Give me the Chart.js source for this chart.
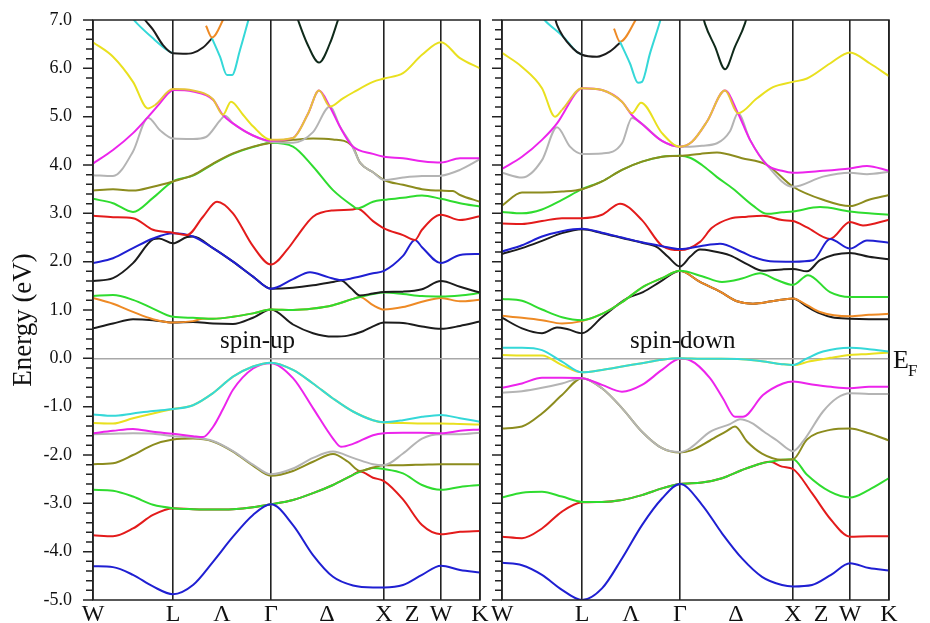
<!DOCTYPE html>
<html>
<head>
<meta charset="utf-8">
<script src="https://cdn.jsdelivr.net/npm/chart.js@4.4.0/dist/chart.umd.min.js"></script>
<style>
  body { margin: 0; background: #fff; }
  #wrap { position: relative; width: 930px; height: 623px; }
  canvas { position: absolute; top: 0; }
</style>
</head>
<body>
<div id="wrap">
  <canvas id="up" width="490" height="623" style="left:0"></canvas>
  <canvas id="down" width="465" height="623" style="left:465px"></canvas>
</div>
<script>
// k-path positions of the high-symmetry points and the axis labels
const symK = [0, 80, 178, 291, 348, 387];
const kTicks = [0, 80, 129, 178, 234, 291, 319, 348, 387];
const kLabels = ['W', 'L', 'Λ', 'Γ', 'Δ', 'X', 'Z', 'W', 'K'];

// ---- spin-up bands, [k, E(eV)] ----
const upBlueV = [[0,-4.30],[20,-4.32],[40,-4.48],[60,-4.72],[80,-4.88],[100,-4.69],[120,-4.21],[140,-3.69],[160,-3.24],[178,-3.02],[200,-3.45],[220,-4.07],[240,-4.52],[260,-4.70],[280,-4.74],[291,-4.74],[310,-4.69],[329,-4.48],[348,-4.29],[367,-4.38],[387,-4.43]];
const upRedV = [[0,-3.66],[20,-3.68],[40,-3.52],[60,-3.24],[80,-3.10],[100,-3.12],[120,-3.13],[140,-3.12],[160,-3.08],[178,-3.02],[200,-2.93],[220,-2.79],[240,-2.62],[260,-2.41],[267,-2.34],[280,-2.47],[291,-2.54],[310,-2.92],[329,-3.45],[348,-3.64],[367,-3.59],[387,-3.57]];
const upGreenV = [[0,-2.72],[20,-2.74],[40,-2.86],[60,-3.03],[80,-3.10],[100,-3.12],[120,-3.13],[140,-3.12],[160,-3.08],[178,-3.02],[200,-2.93],[220,-2.79],[240,-2.62],[260,-2.41],[267,-2.35],[280,-2.27],[291,-2.29],[310,-2.38],[329,-2.62],[348,-2.72],[367,-2.66],[387,-2.62]];
const upOliveV = [[0,-2.19],[20,-2.17],[40,-2.00],[60,-1.79],[80,-1.68],[100,-1.66],[120,-1.72],[140,-1.93],[160,-2.22],[178,-2.43],[200,-2.33],[220,-2.14],[240,-1.98],[255,-2.14],[267,-2.33],[280,-2.26],[291,-2.21],[310,-2.21],[329,-2.20],[348,-2.19],[367,-2.19],[387,-2.19]];
const upGrayV = [[0,-1.57],[20,-1.56],[40,-1.55],[60,-1.56],[80,-1.61],[100,-1.64],[120,-1.71],[140,-1.92],[160,-2.20],[178,-2.40],[200,-2.28],[220,-2.06],[240,-1.93],[260,-2.06],[280,-2.19],[291,-2.21],[310,-1.97],[329,-1.66],[348,-1.57],[367,-1.57],[387,-1.54]];
const upMagentaV = [[0,-1.55],[20,-1.50],[40,-1.46],[60,-1.52],[80,-1.56],[100,-1.61],[110,-1.63],[120,-1.42],[130,-1.05],[140,-0.65],[160,-0.21],[178,-0.10],[200,-0.41],[220,-1.03],[240,-1.66],[248,-1.83],[260,-1.77],[280,-1.59],[291,-1.55],[310,-1.54],[329,-1.54],[348,-1.55],[367,-1.50],[387,-1.47]];
const upCyanV = [[0,-1.16],[20,-1.19],[40,-1.14],[60,-1.09],[80,-1.05],[100,-0.97],[120,-0.72],[140,-0.38],[160,-0.17],[178,-0.09],[200,-0.24],[220,-0.52],[240,-0.83],[260,-1.10],[280,-1.28],[291,-1.32],[310,-1.28],[329,-1.21],[348,-1.17],[367,-1.24],[387,-1.31]];
const upYellowV = [[0,-1.34],[20,-1.35],[40,-1.24],[60,-1.14],[80,-1.05],[100,-0.97],[120,-0.72],[140,-0.38],[160,-0.17],[178,-0.09],[200,-0.24],[220,-0.52],[240,-0.83],[260,-1.10],[280,-1.28],[291,-1.33],[310,-1.34],[329,-1.35],[348,-1.35],[367,-1.36],[387,-1.37]];

const upBlackC1 = [[0,0.62],[20,0.72],[40,0.81],[60,0.79],[80,0.74],[100,0.75],[120,0.72],[140,0.71],[160,0.84],[178,1.01],[200,0.70],[220,0.52],[240,0.45],[255,0.47],[270,0.56],[280,0.66],[291,0.74],[310,0.73],[329,0.66],[348,0.61],[367,0.67],[387,0.76]];
const upOrangeC = [[0,1.25],[20,1.13],[40,0.96],[60,0.81],[80,0.74],[100,0.77],[110,0.82],[120,0.82],[140,0.86],[160,0.93],[178,1.01],[200,1.00],[220,1.03],[240,1.10],[260,1.23],[267,1.27],[280,1.10],[291,1.01],[310,1.06],[329,1.17],[348,1.25],[367,1.18],[387,1.21]];
const upGreenC1 = [[0,1.29],[20,1.31],[40,1.21],[60,1.03],[80,0.86],[100,0.84],[120,0.82],[140,0.86],[160,0.93],[178,1.01],[200,1.00],[220,1.03],[240,1.10],[260,1.23],[267,1.27],[280,1.33],[291,1.36],[310,1.33],[329,1.29],[348,1.28],[367,1.30],[387,1.35]];
const upBlackC2 = [[0,1.60],[20,1.66],[40,1.97],[60,2.46],[66,2.48],[80,2.38],[94,2.51],[100,2.52],[120,2.28],[140,2.00],[160,1.69],[178,1.44],[200,1.46],[220,1.51],[240,1.58],[248,1.61],[258,1.45],[267,1.30],[280,1.34],[291,1.37],[310,1.38],[329,1.43],[348,1.60],[367,1.48],[387,1.36]];
const upBlueC = [[0,1.97],[20,2.07],[40,2.28],[60,2.48],[80,2.59],[100,2.52],[120,2.28],[140,2.00],[160,1.69],[178,1.44],[200,1.64],[217,1.78],[235,1.68],[248,1.62],[260,1.66],[280,1.76],[291,1.81],[310,2.12],[322,2.45],[329,2.30],[348,1.97],[367,2.14],[387,2.16]];
const upRedC = [[0,2.95],[20,2.92],[40,2.90],[60,2.66],[80,2.60],[94,2.55],[110,2.93],[124,3.24],[140,3.00],[160,2.32],[178,1.94],[195,2.27],[205,2.55],[220,2.93],[240,3.06],[260,3.08],[264,3.10],[280,2.84],[291,2.69],[310,2.55],[322,2.45],[329,2.66],[348,2.97],[367,2.86],[387,2.94]];
const upGreenC2 = [[0,3.30],[20,3.21],[40,3.03],[60,3.32],[80,3.66],[100,3.78],[120,4.02],[140,4.23],[160,4.37],[178,4.46],[200,4.38],[220,3.97],[240,3.48],[260,3.15],[264,3.10],[280,3.24],[291,3.28],[310,3.32],[329,3.37],[348,3.30],[367,3.21],[387,3.14]];
const upOliveC = [[0,3.47],[20,3.50],[40,3.47],[60,3.55],[80,3.66],[100,3.79],[120,4.03],[140,4.24],[160,4.38],[178,4.46],[200,4.52],[220,4.55],[240,4.53],[259,4.40],[267,4.05],[280,3.85],[291,3.69],[310,3.59],[329,3.50],[348,3.47],[360,3.46],[367,3.38],[387,3.24]];
const upGrayC = [[0,3.79],[20,3.77],[40,4.28],[55,4.98],[67,4.72],[80,4.55],[100,4.54],[113,4.58],[127,4.92],[132,5.02],[140,4.86],[160,4.61],[178,4.48],[200,4.46],[220,4.68],[237,5.21],[247,4.79],[259,4.40],[267,4.05],[280,3.85],[291,3.69],[310,3.74],[329,3.77],[348,3.78],[367,3.90],[387,4.12]];
const upMagentaC = [[0,4.03],[20,4.31],[40,4.66],[54,4.97],[67,5.28],[75,5.48],[80,5.55],[100,5.52],[120,5.35],[130,5.03],[140,4.86],[160,4.61],[178,4.50],[200,4.56],[215,5.06],[226,5.54],[237,5.20],[247,4.79],[259,4.40],[280,4.23],[291,4.17],[310,4.14],[329,4.08],[348,4.05],[367,4.14],[387,4.14]];
const upYellowC = [[0,6.54],[20,6.24],[40,5.72],[55,5.17],[62,5.24],[80,5.57],[100,5.54],[120,5.36],[130,5.04],[138,5.31],[150,5.04],[160,4.80],[178,4.52],[200,4.56],[215,5.06],[226,5.54],[237,5.21],[250,5.38],[260,5.50],[280,5.72],[291,5.79],[310,5.90],[329,6.28],[348,6.54],[367,6.21],[387,6.00]];
const upCyanT1 = [[36,7.12],[44,6.93],[60,6.62],[74,6.38],[80,6.31]];
const upBlackT = [[48,7.12],[52,7.00],[60,6.80],[70,6.48],[80,6.31],[90,6.30],[100,6.32],[110,6.43],[119,6.62]];
const upOrangeT = [[113,6.88],[119,6.64],[132,7.08]];
const upCyanT2 = [[119,6.62],[127,6.24],[134,5.86],[139,5.86],[147,6.38],[155,6.97],[157,7.12]];
const upBlackD = [[200,7.30],[205,7.00],[214,6.52],[226,6.12],[237,6.52],[245,7.00],[250,7.30]];

// ---- spin-down bands, [k, E(eV)] ----
const dnBlueV = [[0,-4.23],[20,-4.28],[40,-4.48],[60,-4.79],[80,-5.00],[100,-4.76],[120,-4.14],[140,-3.45],[160,-2.90],[178,-2.60],[200,-3.03],[220,-3.62],[240,-4.14],[260,-4.52],[280,-4.69],[291,-4.72],[310,-4.69],[329,-4.48],[348,-4.24],[367,-4.34],[387,-4.39]];
const dnRedV = [[0,-3.69],[20,-3.72],[40,-3.52],[60,-3.17],[80,-2.98],[100,-2.97],[120,-2.93],[140,-2.83],[160,-2.69],[178,-2.60],[200,-2.57],[220,-2.48],[240,-2.31],[260,-2.17],[268,-2.14],[280,-2.24],[291,-2.29],[310,-2.79],[329,-3.34],[348,-3.69],[367,-3.68],[387,-3.68]];
const dnGreenV = [[0,-2.88],[20,-2.78],[40,-2.76],[60,-2.86],[80,-2.97],[100,-2.97],[120,-2.93],[140,-2.83],[160,-2.69],[178,-2.60],[200,-2.57],[220,-2.48],[240,-2.31],[260,-2.17],[268,-2.14],[280,-2.10],[291,-2.09],[305,-2.41],[328,-2.76],[348,-2.88],[367,-2.72],[387,-2.48]];
const dnOliveV = [[0,-1.45],[20,-1.41],[40,-1.14],[60,-0.76],[80,-0.41],[100,-0.62],[120,-1.03],[140,-1.52],[160,-1.86],[178,-1.95],[190,-1.90],[208,-1.70],[225,-1.50],[233,-1.41],[245,-1.72],[260,-1.97],[280,-2.10],[291,-2.09],[305,-1.68],[328,-1.48],[348,-1.45],[367,-1.55],[387,-1.70]];
const dnGrayV = [[0,-0.71],[20,-0.68],[40,-0.61],[60,-0.52],[80,-0.41],[100,-0.62],[120,-1.03],[140,-1.52],[160,-1.86],[178,-1.94],[188,-1.86],[208,-1.52],[228,-1.36],[238,-1.26],[250,-1.34],[262,-1.52],[275,-1.70],[291,-1.92],[301,-1.72],[321,-1.10],[335,-0.82],[348,-0.72],[367,-0.74],[387,-0.74]];
const dnMagentaV = [[0,-0.61],[20,-0.52],[40,-0.40],[60,-0.40],[80,-0.41],[100,-0.55],[120,-0.69],[140,-0.55],[160,-0.24],[178,-0.01],[188,-0.04],[208,-0.41],[221,-0.83],[233,-1.21],[241,-1.21],[261,-0.76],[281,-0.52],[291,-0.48],[310,-0.54],[329,-0.59],[348,-0.62],[367,-0.59],[387,-0.59]];
const dnCyanV = [[0,0.22],[20,0.22],[40,0.17],[60,-0.07],[80,-0.29],[100,-0.24],[120,-0.17],[140,-0.10],[160,-0.03],[178,0.00],[200,-0.01],[220,-0.01],[240,-0.02],[260,-0.06],[280,-0.12],[291,-0.14],[305,0.00],[321,0.14],[348,0.22],[367,0.19],[387,0.14]];
const dnYellowV = [[0,0.07],[20,0.06],[40,0.06],[60,-0.14],[80,-0.29],[100,-0.24],[120,-0.17],[140,-0.10],[160,-0.03],[178,0.00],[200,-0.01],[220,-0.01],[240,-0.02],[260,-0.06],[280,-0.12],[291,-0.14],[308,-0.06],[328,0.01],[348,0.07],[367,0.09],[387,0.12]];

const dnBlackC1 = [[0,0.84],[20,0.62],[40,0.52],[55,0.64],[66,0.60],[80,0.52],[100,0.85],[125,1.24],[141,1.37],[158,1.58],[178,1.81],[198,1.58],[218,1.38],[235,1.18],[251,1.13],[270,1.18],[291,1.24],[305,1.07],[318,0.93],[330,0.85],[348,0.82],[367,0.81],[387,0.81]];
const dnOrangeC = [[0,0.88],[20,0.84],[40,0.79],[60,0.72],[80,0.77],[100,0.92],[120,1.16],[141,1.48],[160,1.66],[178,1.81],[198,1.58],[218,1.38],[235,1.18],[251,1.13],[270,1.18],[291,1.24],[305,1.10],[318,0.96],[348,0.87],[367,0.90],[387,0.92]];
const dnGreenC1 = [[0,1.23],[20,1.19],[40,1.01],[60,0.85],[80,0.79],[100,0.92],[120,1.16],[141,1.48],[160,1.66],[178,1.81],[200,1.70],[220,1.58],[240,1.65],[258,1.76],[275,1.62],[291,1.52],[306,1.72],[328,1.37],[348,1.27],[367,1.27],[387,1.27]];
const dnBlackC2 = [[0,2.16],[20,2.28],[40,2.43],[60,2.59],[80,2.67],[100,2.59],[120,2.49],[140,2.39],[155,2.30],[166,2.10],[178,1.90],[188,2.10],[198,2.25],[210,2.22],[228,2.13],[245,1.95],[261,1.81],[280,1.84],[291,1.85],[305,1.80],[318,2.03],[348,2.18],[367,2.10],[387,2.05]];
const dnRedC = [[0,2.79],[20,2.78],[40,2.84],[60,2.90],[80,2.90],[100,2.97],[118,3.20],[140,2.86],[160,2.33],[178,2.24],[198,2.41],[210,2.70],[228,2.89],[245,2.93],[261,2.95],[280,2.86],[291,2.84],[305,2.71],[328,2.47],[348,2.82],[361,2.75],[387,2.87]];
const dnBlueC = [[0,2.21],[20,2.34],[40,2.52],[60,2.63],[80,2.68],[100,2.60],[120,2.50],[140,2.40],[160,2.32],[178,2.26],[198,2.32],[218,2.37],[240,2.20],[251,2.10],[268,2.01],[291,2.00],[311,2.03],[328,2.47],[348,2.27],[365,2.44],[387,2.39]];
const dnGreenC2 = [[0,3.03],[20,3.00],[40,3.08],[60,3.28],[80,3.50],[100,3.66],[120,3.90],[140,4.07],[160,4.17],[178,4.19],[188,4.15],[200,4.00],[215,3.75],[231,3.51],[251,3.16],[265,2.99],[280,3.02],[291,3.04],[318,3.13],[348,3.04],[367,3.00],[387,2.97]];
const dnOliveC = [[0,3.16],[20,3.43],[40,3.43],[60,3.45],[80,3.50],[100,3.66],[120,3.90],[140,4.07],[160,4.17],[178,4.19],[198,4.23],[215,4.26],[240,4.14],[265,4.00],[291,3.55],[321,3.28],[348,3.15],[367,3.28],[387,3.38]];
const dnGrayC = [[0,3.84],[20,3.74],[40,4.10],[55,4.78],[68,4.38],[80,4.23],[100,4.24],[120,4.45],[130,4.97],[140,4.85],[160,4.50],[178,4.38],[188,4.38],[200,4.40],[215,4.45],[228,4.70],[236,5.07],[248,4.52],[265,4.00],[291,3.55],[321,3.76],[348,3.84],[365,3.81],[387,3.86]];
const dnMagentaC = [[0,3.92],[20,4.17],[40,4.52],[55,4.86],[75,5.52],[80,5.59],[100,5.55],[120,5.31],[130,5.03],[140,4.85],[160,4.50],[178,4.38],[190,4.48],[205,4.90],[223,5.54],[236,5.07],[248,4.52],[265,4.00],[280,3.88],[291,3.84],[321,3.88],[348,3.93],[365,3.98],[387,3.88]];
const dnYellowC = [[0,6.32],[20,6.03],[40,5.59],[53,5.00],[60,5.14],[80,5.59],[100,5.55],[120,5.31],[130,5.07],[139,5.29],[160,4.66],[178,4.38],[190,4.48],[205,4.90],[223,5.54],[236,5.07],[255,5.38],[271,5.61],[291,5.72],[305,5.79],[328,6.10],[348,6.33],[368,6.10],[387,5.84]];
const dnCyanT1 = [[38,7.12],[43,6.99],[61,6.66],[75,6.34],[80,6.28]];
const dnBlackT = [[52,7.12],[55,6.90],[71,6.41],[80,6.28],[95,6.24],[108,6.35],[118,6.53]];
const dnOrangeT = [[112,6.82],[118,6.55],[136,7.08]];
const dnCyanT2 = [[118,6.55],[128,6.10],[136,5.70],[140,5.72],[148,6.31],[158,6.97],[160,7.12]];
const dnBlackD = [[199,7.25],[203,6.92],[213,6.45],[223,5.98],[233,6.45],[243,6.93],[247,7.25]];

// ---- styles ----
const FONT = "'Liberation Serif','Times New Roman',serif";
const C = {
  blue: '#1f1fd2', red: '#e31b1b', green: '#2fdc2f', olive: '#8c8c1e', gray: '#b4b4b4',
  magenta: '#ec24ec', cyan: '#35d8d8', yellow: '#e9e01f', black: '#1c1c1c',
  orange: '#ee8a25', dark: '#0f2a1a', gold: '#e6c23a'
};
const goldUp = [[57, 130], [168, 237]];
const goldDn = [[55, 130], [168, 236]];

// drawing order: first entry is painted first (bottom)
const upList = [
  [upRedV, C.red], [upGreenV, C.green], [upBlueV, C.blue], [upOliveV, C.olive], [upGrayV, C.gray],
  [upMagentaV, C.magenta], [upYellowV, C.yellow], [upCyanV, C.cyan],
  [upBlackC1, C.black], [upOrangeC, C.orange], [upGreenC1, C.green], [upBlackC2, C.black],
  [upBlueC, C.blue], [upRedC, C.red], [upGreenC2, C.green], [upOliveC, C.olive], [upGrayC, C.gray],
  [upMagentaC, C.magenta], [upYellowC, C.yellow, goldUp],
  [upCyanT1, C.cyan], [upBlackT, C.black], [upOrangeT, C.orange], [upCyanT2, C.cyan], [upBlackD, C.dark]
];
const dnList = [
  [dnRedV, C.red], [dnGreenV, C.green], [dnBlueV, C.blue], [dnOliveV, C.olive], [dnGrayV, C.gray],
  [dnMagentaV, C.magenta], [dnYellowV, C.yellow], [dnCyanV, C.cyan],
  [dnBlackC1, C.black], [dnOrangeC, C.orange], [dnGreenC1, C.green], [dnBlackC2, C.black],
  [dnRedC, C.red], [dnBlueC, C.blue], [dnGreenC2, C.green], [dnOliveC, C.olive], [dnGrayC, C.gray],
  [dnMagentaC, C.magenta], [dnYellowC, C.yellow, goldDn],
  [dnCyanT1, C.cyan], [dnBlackT, C.black], [dnOrangeT, C.orange], [dnCyanT2, C.cyan], [dnBlackD, C.dark]
];

function makeSets(list) {
  const n = list.length;
  return list.map(([pts, col, gold], i) => ({
    data: pts.map(p => ({x: p[0], y: p[1]})),
    borderColor: col,
    order: n - i,
    segment: gold ? {
      borderColor: c => gold.some(r => c.p0.parsed.x >= r[0] && c.p1.parsed.x <= r[1]) ? C.gold : undefined
    } : undefined
  }));
}

// frame, energy ticks and the free texts
function framePlugin(left) {
  return {
    id: 'frame',
    afterDraw(chart) {
      const {ctx, chartArea: a} = chart;
      const y = chart.scales.y;
      ctx.save();
      ctx.strokeStyle = '#222';
      ctx.lineWidth = 1.5;
      ctx.strokeRect(a.left, a.top, a.right - a.left, a.bottom - a.top);
      ctx.beginPath();
      ctx.moveTo(a.left - 10, a.top); ctx.lineTo(a.left, a.top);
      ctx.moveTo(a.left - 10, a.bottom); ctx.lineTo(a.left, a.bottom);
      for (let i = 0; i <= 60; i++) {
        const py = y.getPixelForValue(-5 + i * 0.2);
        const len = i % 5 === 0 ? 10 : 7;
        ctx.moveTo(a.left - len, py); ctx.lineTo(a.left, py);
      }
      ctx.stroke();

      ctx.fillStyle = '#111';
      ctx.textBaseline = 'alphabetic';
      ctx.textAlign = 'left';
      ctx.font = '25px ' + FONT;
      if (left) {
        ctx.fillText('spin-up', 220, 348);
        ctx.save();
        ctx.translate(24, 320);
        ctx.rotate(-Math.PI / 2);
        ctx.font = '27px ' + FONT;
        ctx.textAlign = 'center';
        ctx.textBaseline = 'middle';
        ctx.fillText('Energy (eV)', 0, 0);
        ctx.restore();
      } else {
        ctx.fillText('spin-down', 165, 348);
        ctx.font = '26px ' + FONT;
        ctx.fillText('E', 428, 368);
        ctx.font = '17px ' + FONT;
        ctx.fillText('F', 443, 376);
      }
      ctx.restore();
    }
  };
}

function makeChart(id, list, left) {
  return new Chart(document.getElementById(id), {
    type: 'line',
    data: {datasets: makeSets(list)},
    options: {
      responsive: false,
      animation: false,
      layout: {padding: {top: 20, right: left ? 10 : 41, left: 0, bottom: 0}},
      plugins: {legend: {display: false}, tooltip: {enabled: false}},
      elements: {
        point: {radius: 0},
        line: {borderWidth: 2, cubicInterpolationMode: 'monotone', fill: false}
      },
      scales: {
        x: {
          type: 'linear', min: 0, max: 387,
          afterBuildTicks: s => { s.ticks = kTicks.map(v => ({value: v})); },
          afterFit: s => { s.height = 23; s.paddingLeft = 0; s.paddingRight = 0; },
          ticks: {
            autoSkip: false, maxRotation: 0, padding: 0, color: '#111',
            font: {family: FONT, size: 24},
            callback: (v, i) => kLabels[i]
          },
          grid: {
            drawTicks: false, lineWidth: 1.6,
            color: c => (c.tick && symK.includes(c.tick.value)) ? '#222' : 'rgba(0,0,0,0)'
          },
          border: {display: false}
        },
        y: {
          min: -5, max: 7,
          afterFit: s => { s.width = left ? 93 : 37; s.paddingTop = 0; s.paddingBottom = 0; },
          ticks: {
            display: left, stepSize: 1, padding: 21, color: '#111',
            font: {family: FONT, size: 18},
            callback: v => v.toFixed(1)
          },
          grid: {
            drawTicks: false, lineWidth: 1.5,
            color: c => (c.tick && c.tick.value === 0) ? '#a8a8a8' : 'rgba(0,0,0,0)'
          },
          border: {display: false}
        }
      }
    },
    plugins: [framePlugin(left)]
  });
}

makeChart('up', upList, true);
makeChart('down', dnList, false);
</script>
</body>
</html>
